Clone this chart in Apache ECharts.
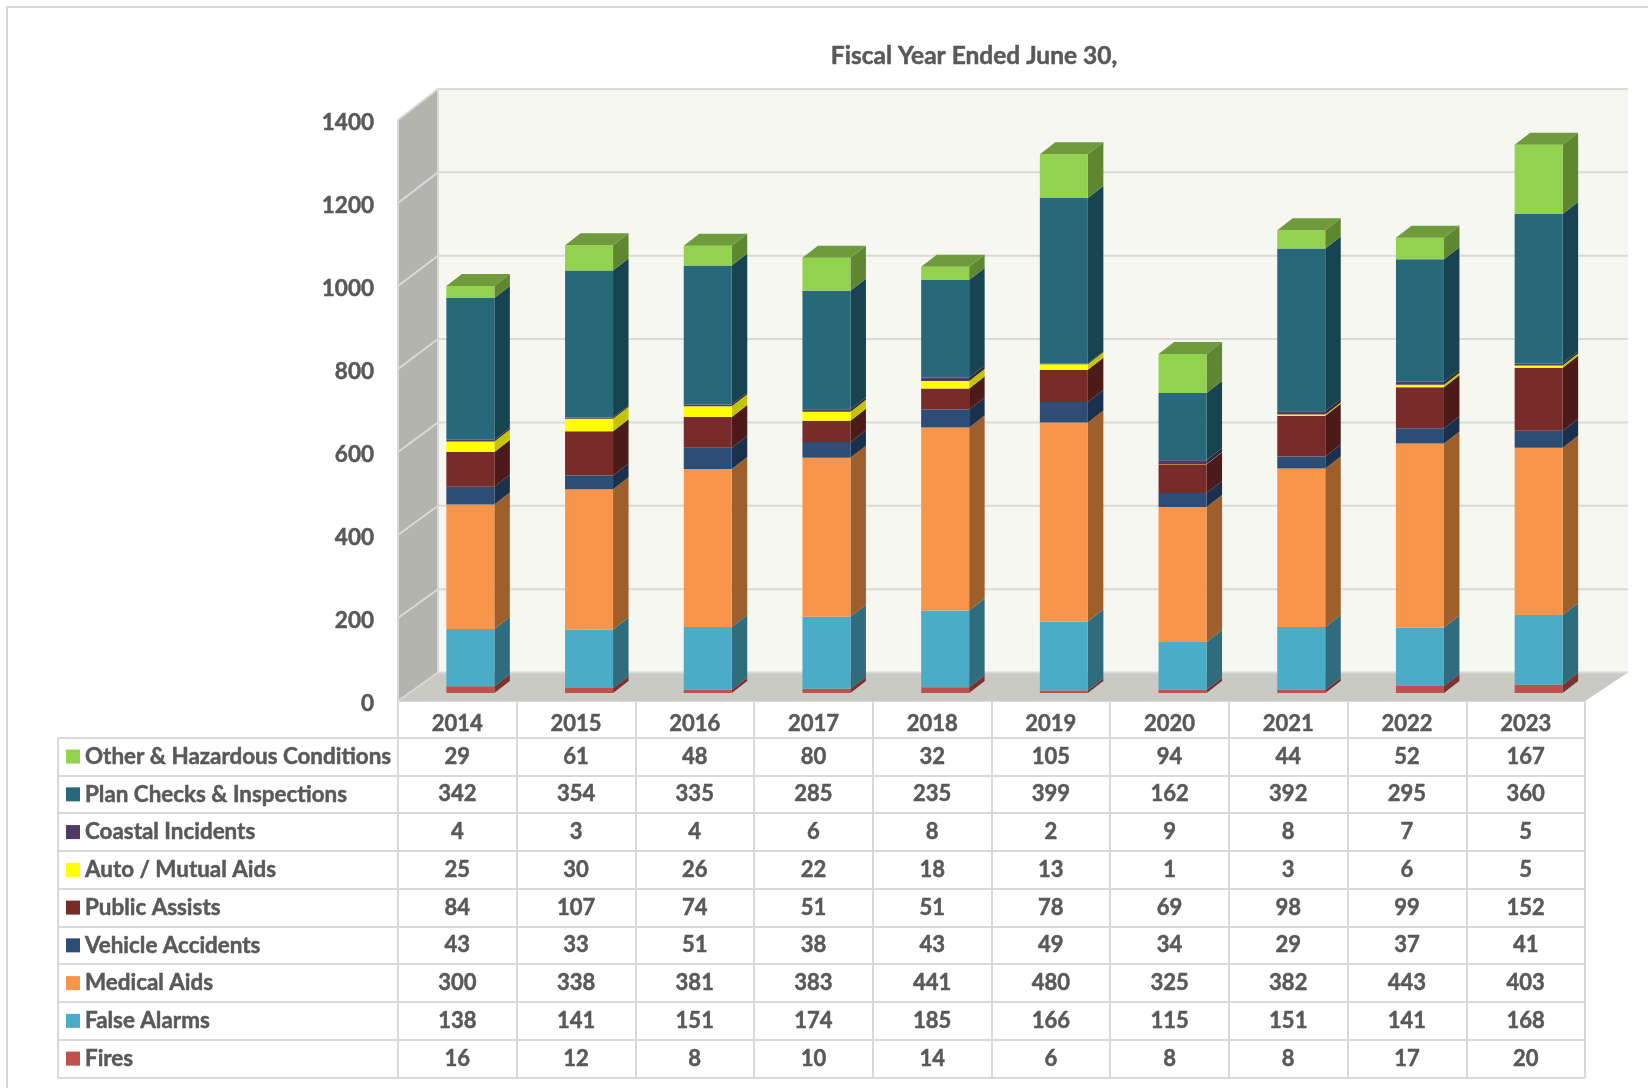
<!DOCTYPE html>
<html>
<head>
<meta charset="utf-8">
<title>Fire Department Incidents by Fiscal Year</title>
<style>html,body{margin:0;padding:0;background:#fff}#chart{width:1648px;height:1088px}</style>
<script src="https://cdn.jsdelivr.net/npm/echarts@6/dist/echarts.min.js"></script>
</head>
<body>
<div id="chart"></div>
<script>
// Fiscal years and incident counts per category
const years = ['2014','2015','2016','2017','2018','2019','2020','2021','2022','2023'];
const other     = [29,61,48,80,32,105,94,44,52,167];
const planCheck = [342,354,335,285,235,399,162,392,295,360];
const coastal   = [4,3,4,6,8,2,9,8,7,5];
const autoAid   = [25,30,26,22,18,13,1,3,6,5];
const assists   = [84,107,74,51,51,78,69,98,99,152];
const vehicle   = [43,33,51,38,43,49,34,29,37,41];
const medical   = [300,338,381,383,441,480,325,382,443,403];
const falseAl   = [138,141,151,174,185,166,115,151,141,168];
const fires     = [16,12,8,10,14,6,8,8,17,20];
const yTicks    = [0,200,400,600,800,1000,1200,1400];

// Table rows, top to bottom; the stack is built from the last row upward
const rows = [
  {name:'Other & Hazardous Conditions', values:other,     front:'#92D24F', side:'#5F8732', top:'#6F9B3C'},
  {name:'Plan Checks & Inspections',    values:planCheck, front:'#27697B', side:'#184351'},
  {name:'Coastal Incidents',            values:coastal,   front:'#4F3A66', side:'#33253F'},
  {name:'Auto / Mutual Aids',           values:autoAid,   front:'#FFFF00', side:'#C4C400'},
  {name:'Public Assists',               values:assists,   front:'#772C2A', side:'#4C1A19'},
  {name:'Vehicle Accidents',            values:vehicle,   front:'#2C4D75', side:'#1B304D'},
  {name:'Medical Aids',                 values:medical,   front:'#F9954A', side:'#9E5F2B'},
  {name:'False Alarms',                 values:falseAl,   front:'#4AACC6', side:'#2F6C7E'},
  {name:'Fires',                        values:fires,     front:'#C0504D', side:'#7C3230'}
];

const FONT = 'Lato';
const TEXT = '#595959';
const LINE = '#D9D9D9';
// A hairline outline gives the labels a heavier bold weight
const HEAVY = {textBorderColor:TEXT, textBorderWidth:0.5};

// Oblique projection settings for the box and the columns
const BAR_W = 48, BAR_SHIFT_X = 13, BAR_SHIFT_Y = -8, BAR_DX = 15.5, BAR_DY = -12;
const WALL_DX_L = 40, WALL_DX_R = 43, WALL_DY_0 = -28.5, WALL_DY_MAX = -31;

function wallY(api, v) {
  const y = api.coord([0, v])[1];
  return y + WALL_DY_0 + (WALL_DY_MAX - WALL_DY_0) * v / 1400;
}

// Back wall, side wall, floor and their gridlines
function renderBox(params, api) {
  const g = params.coordSys;
  const x0 = g.x, x1 = g.x + g.width;
  const bl = x0 + WALL_DX_L, br = x1 + WALL_DX_R;
  const f0 = api.coord([0, 0])[1], fm = api.coord([0, 1400])[1];
  const b0 = wallY(api, 0), bm = wallY(api, 1400);
  const poly = (points, fill) => ({type:'polygon', shape:{points}, style:{fill}, silent:true});
  const children = [
    poly([[bl,bm],[br,bm],[br,b0],[bl,b0]], '#F6F7F0'),
    poly([[x0,fm],[bl,bm],[bl,b0],[x0,f0]], '#B3B4AD'),
    poly([[x0,f0],[bl,b0],[br,b0],[x1,f0]], '#C9CAC3')
  ];
  yTicks.forEach(v => {
    const fy = api.coord([0, v])[1], by = wallY(api, v);
    children.push({type:'polyline', silent:true,
      shape:{points:[[x0,fy],[bl,by],[br,by]]},
      style:{stroke:LINE, lineWidth:2, fill:null}});
  });
  children.push({type:'line', silent:true, shape:{x1:bl,y1:bm,x2:bl,y2:b0}, style:{stroke:LINE,lineWidth:2}});
  children.push({type:'line', silent:true, shape:{x1:x0,y1:fm,x2:x0,y2:f0}, style:{stroke:LINE,lineWidth:2}});
  return {type:'group', children};
}

// One stacked block of a column: front and side faces, plus a lid on the top block
function renderBlock(row, isTop) {
  return function (params, api) {
    const i = api.value(0);
    const cx = api.coord([i, 0])[0] + BAR_SHIFT_X;
    const yA = api.coord([i, api.value(1)])[1] + BAR_SHIFT_Y;
    const yB = api.coord([i, api.value(2)])[1] + BAR_SHIFT_Y;
    const l = cx - BAR_W / 2, r = cx + BAR_W / 2;
    const children = [
      {type:'polygon', shape:{points:[[r,yA],[r+BAR_DX,yA+BAR_DY],[r+BAR_DX,yB+BAR_DY],[r,yB]]}, style:{fill:row.side}},
      {type:'polygon', shape:{points:[[l,yA],[r,yA],[r,yB],[l,yB]]}, style:{fill:row.front}}
    ];
    if (isTop) {
      children.push({type:'polygon', shape:{points:[[l,yB],[r,yB],[r+BAR_DX,yB+BAR_DY],[l+BAR_DX,yB+BAR_DY]]}, style:{fill:row.top}});
    }
    return {type:'group', children};
  };
}

// Running totals so each block starts where the one below it ends
const running = years.map(() => 0);
const blockSeries = rows.slice().reverse().map((row, idx, arr) => {
  const data = row.values.map((v, i) => {
    const item = [i, running[i], running[i] + v];
    running[i] += v;
    return item;
  });
  return {
    type:'custom', name:row.name, xAxisIndex:0, yAxisIndex:0, z:3, clip:false,
    renderItem:renderBlock(row, idx === arr.length - 1),
    encode:{x:0, y:[1,2]}, data
  };
});

// Numbers inside the data table
const cells = [];
rows.forEach((row, r) => row.values.forEach((v, c) => cells.push([c, r, v])));

const swatches = {};
rows.forEach((row, r) => {
  swatches['s' + r] = {width:14, height:14, backgroundColor:row.front};
});

const option = {
  animation:false,
  backgroundColor:'#fff',
  title:{
    text:'Fiscal Year Ended June 30,', left:969, top:39, textAlign:'center',
    textStyle:Object.assign({fontFamily:FONT, fontWeight:700, fontSize:24.5, color:TEXT}, HEAVY)
  },
  grid:[
    {left:398, top:120, width:1187, height:581},
    {left:398, top:737.7, width:1187, height:339.8}
  ],
  xAxis:[
    {type:'category', gridIndex:0, data:years, position:'bottom',
      axisLine:{show:true, lineStyle:{color:LINE, width:2}},
      axisTick:{show:true, length:36.7, lineStyle:{color:LINE, width:2}},
      axisLabel:Object.assign({margin:12, fontFamily:FONT, fontWeight:700, fontSize:22, color:TEXT}, HEAVY)},
    {type:'category', gridIndex:1, data:years, position:'top',
      axisLine:{show:true, lineStyle:{color:LINE, width:2}},
      axisTick:{show:false}, axisLabel:{show:false},
      splitLine:{show:true, lineStyle:{color:LINE, width:2}}}
  ],
  yAxis:[
    {type:'value', gridIndex:0, min:0, max:1400, interval:200,
      axisLine:{show:false}, axisTick:{show:false}, splitLine:{show:false},
      axisLabel:Object.assign({margin:24, fontFamily:FONT, fontWeight:700, fontSize:22.5, color:TEXT,
        verticalAlign:'top', lineHeight:5, formatter:v => String(v)}, HEAVY)},
    {type:'category', gridIndex:1, inverse:true, data:rows.map(r => r.name),
      axisLine:{show:true, lineStyle:{color:LINE, width:2}},
      axisTick:{show:true, length:340, lineStyle:{color:LINE, width:2}},
      splitLine:{show:true, lineStyle:{color:LINE, width:2}},
      axisLabel:{
        align:'left', margin:332, interval:0, color:TEXT,
        formatter:(name, i) => '{s' + i + '|}{t|' + name + '}',
        rich:Object.assign({t:Object.assign({fontFamily:FONT, fontWeight:700, fontSize:22.4, color:TEXT, padding:[0,0,0,5]}, HEAVY)}, swatches)
      }}
  ],
  series:[
    {type:'custom', name:'box', xAxisIndex:0, yAxisIndex:0, z:1, clip:false, silent:true,
      renderItem:renderBox, encode:{x:0, y:1}, data:[[0,0]]},
    ...blockSeries,
    {type:'custom', name:'table', xAxisIndex:1, yAxisIndex:1, z:3, silent:true,
      renderItem:(params, api) => {
        const p = api.coord([api.value(0), api.value(1)]);
        return {type:'text', x:p[0], y:p[1], style:{
          text:String(api.value(2)), align:'center', verticalAlign:'middle',
          fontFamily:FONT, fontWeight:700, fontSize:22, fill:TEXT,
          stroke:TEXT, lineWidth:0.5}};
      },
      encode:{x:0, y:1}, data:cells}
  ],
  graphic:[
    // Page frame and the outer left edge of the table
    {type:'polyline', silent:true, shape:{points:[[7,1088],[7,7],[1648,7]]}, style:{stroke:LINE, lineWidth:2, fill:null}},
    {type:'line', silent:true, shape:{x1:58, y1:737.7, x2:58, y2:1077.5}, style:{stroke:LINE, lineWidth:2}}
  ]
};

const chart = echarts.init(document.getElementById('chart'), null, {renderer:'canvas'});
chart.setOption(option);
</script>
</body>
</html>
